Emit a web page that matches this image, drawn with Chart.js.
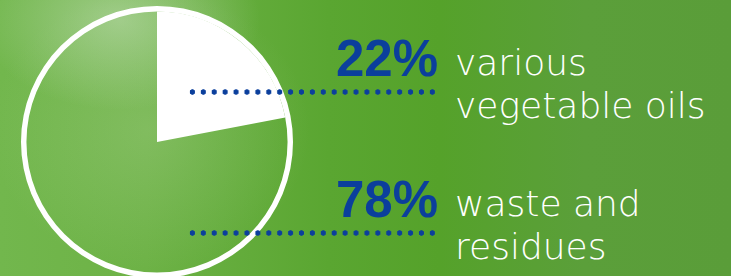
<!DOCTYPE html>
<html>
<head>
<meta charset="utf-8">
<script src="https://cdn.jsdelivr.net/npm/chart.js@4"></script>
<style>
  html, body { margin: 0; padding: 0; }
  body {
    width: 731px; height: 276px; overflow: hidden; position: relative;
    background:
      radial-gradient(ellipse 140px 90px at 120px 20px, rgba(200,225,190,0.55), rgba(200,225,190,0) 100%),
      radial-gradient(ellipse 160px 140px at 150px 130px, rgba(190,220,170,0.25), rgba(190,220,170,0) 100%),
      linear-gradient(90deg, #72b74d 0%, #6db246 20%, #5aa631 45%, #55a22a 60%, #5b9f3a 80%, #5a9d39 100%);
  }
  #chartBox { position: absolute; left: 21px; top: 6px; width: 272px; height: 272px; }
  .pct {
    position: absolute; font-family: "Liberation Sans", Arial, sans-serif; font-weight: bold;
    font-size: 51px; color: #0b3f9c; text-align: right; width: 124px; line-height: 1;
  }
  .lbl {
    position: absolute; font-family: "DejaVu Sans", sans-serif; font-weight: 200;
    font-size: 36px; color: #ffffff; line-height: 43px; white-space: nowrap;
  }
  .dots {
    position: absolute; height: 6px;
    background-image: radial-gradient(circle, #0b3f9c 2.4px, rgba(11,63,156,0) 3px);
    background-size: 10.8px 6px; background-repeat: space no-repeat;
  }
</style>
</head>
<body>
<div id="chartBox"><canvas id="pie"></canvas></div>
<div id="labels"></div>
<script>
// chart data
const categories = ["various vegetable oils", "waste and residues"];
const shares = [22, 78];
const labelLines = [["various", "vegetable oils"], ["waste and", "residues"]];

const sliceColors = ["#ffffff", "rgba(0,0,0,0)"];

// text and dotted leader lines, one row per category
const rowTops = [33, 174];
const labelsEl = document.getElementById("labels");
categories.forEach((cat, i) => {
  const top = rowTops[i];
  const pct = document.createElement("div");
  pct.className = "pct";
  pct.style.left = "314px";
  pct.style.top = top + "px";
  pct.textContent = `${shares[i]}%`;
  labelsEl.appendChild(pct);

  const lbl = document.createElement("div");
  lbl.className = "lbl";
  lbl.style.left = "455px";
  lbl.style.top = (top + 8) + "px";
  lbl.innerHTML = labelLines[i].join("<br>");
  labelsEl.appendChild(lbl);

  const dots = document.createElement("div");
  dots.className = "dots";
  dots.style.left = "187px";
  dots.style.width = "251px";
  dots.style.top = (top + 56) + "px";
  labelsEl.appendChild(dots);
});

const ctx = document.getElementById("pie").getContext("2d");
const pieChart = new Chart(ctx, {
  type: "pie",
  data: {
    labels: categories,
    datasets: [
      {
        // thin white outline ring
        data: [100],
        backgroundColor: ["#ffffff"],
        borderWidth: 0,
        weight: 1,
      },
      {
        data: shares,
        backgroundColor: sliceColors,
        borderWidth: 0,
        weight: 24,
      },
    ],
  },
  options: {
    responsive: true,
    maintainAspectRatio: false,
    animation: false,
    events: [],
    plugins: {
      legend: { display: false },
      tooltip: { enabled: false },
    },
  },
});
</script>
</body>
</html>
